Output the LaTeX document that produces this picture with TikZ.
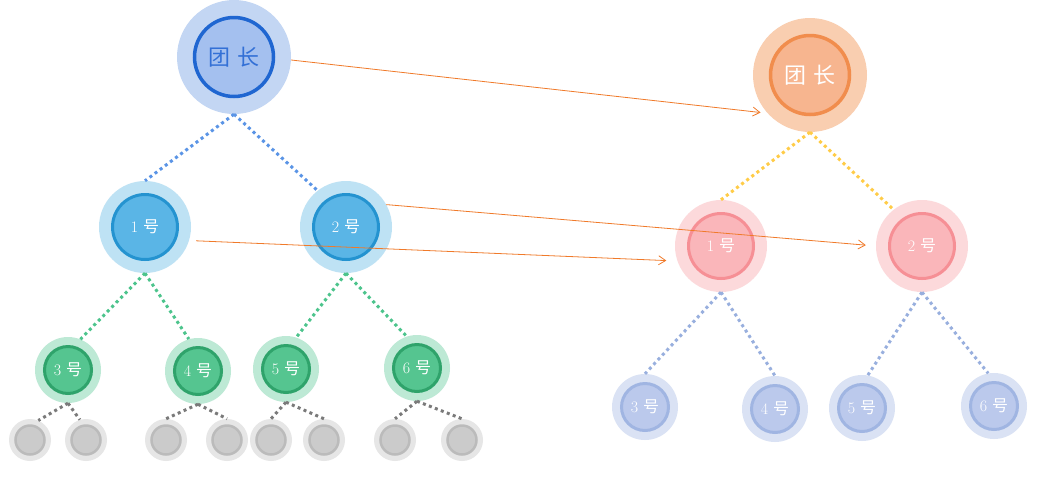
\documentclass[tikz,border=0pt]{standalone}
\usepackage{fontspec}
\newfontfamily\cjk{Noto Sans CJK SC}
\usetikzlibrary{arrows.meta}
\definecolor{bossBlueOut}{HTML}{C3D6F3}
\definecolor{bossBlueIn}{HTML}{A4C0EF}
\definecolor{bossBlueRing}{HTML}{1F66D1}
\definecolor{bossBlueText}{HTML}{3370D6}
\definecolor{skyOut}{HTML}{BEE2F4}
\definecolor{skyIn}{HTML}{5AB5E6}
\definecolor{skyRing}{HTML}{2493D0}
\definecolor{mintOut}{HTML}{BDE9D5}
\definecolor{mintIn}{HTML}{55C590}
\definecolor{mintRing}{HTML}{2FA36B}
\definecolor{greyOut}{HTML}{E6E6E6}
\definecolor{greyIn}{HTML}{CBCBCB}
\definecolor{greyRing}{HTML}{BBBBBB}
\definecolor{peachOut}{HTML}{F9CEB0}
\definecolor{peachIn}{HTML}{F7B58F}
\definecolor{peachRing}{HTML}{F18D4D}
\definecolor{roseOut}{HTML}{FCD9DB}
\definecolor{roseIn}{HTML}{FAB6BA}
\definecolor{roseRing}{HTML}{F68F95}
\definecolor{lilacOut}{HTML}{DAE2F4}
\definecolor{lilacIn}{HTML}{BBC9EC}
\definecolor{lilacRing}{HTML}{A0B5E2}
\definecolor{dotBlue}{HTML}{5A94E6}
\definecolor{dotMint}{HTML}{4CC48C}
\definecolor{dotGrey}{HTML}{7A7A7A}
\definecolor{dotGold}{HTML}{FFCC47}
\definecolor{dotLilac}{HTML}{98AFDE}
\definecolor{moveOrange}{HTML}{F07A2A}
\newcommand\hao[1]{#1\hspace{5pt}{\cjk 号}}

\begin{document}
\begin{tikzpicture}[x=1pt,y=-1pt,>={Straight Barb[length=7pt,width=9pt]}]
\path[fill=white] (0,0) rectangle (1047,480);
\tikzset{big/.style={circle,inner sep=0pt,minimum size=114pt},mid/.style={circle,inner sep=0pt,minimum size=92pt},small/.style={circle,inner sep=0pt,minimum size=66pt},tiny/.style={circle,inner sep=0pt,minimum size=42pt},
bigring/.style={circle,inner sep=0pt,minimum size=79pt,line width=3.5pt,font=\cjk\fontsize{22}{22}\selectfont},midring/.style={circle,inner sep=0pt,minimum size=65pt,line width=3pt,text=white,font=\fontsize{16}{16}\selectfont},smallring/.style={circle,inner sep=0pt,minimum size=47pt,line width=3pt,text=white,font=\fontsize{16}{16}\selectfont},tinyring/.style={circle,inner sep=0pt,minimum size=29pt,line width=2.5pt},
dots/.style={line width=3pt,dash pattern=on 3pt off 3.4pt},move/.style={draw=moveOrange,line width=0.8pt,->}}
% old team
\node[big,fill=bossBlueOut] (Lboss) at (234,54) {};
\node[bigring,fill=bossBlueIn,draw=bossBlueRing,text=bossBlueText] (Lboss-in) at (Lboss) {团\hspace{7pt}长};
\node[mid,fill=skyOut] (L1) at (145,224) {}; \node[midring,fill=skyIn,draw=skyRing] (L1-in) at (L1) {\hao{1}};
\node[mid,fill=skyOut] (L2) at (346,224) {}; \node[midring,fill=skyIn,draw=skyRing] (L2-in) at (L2) {\hao{2}};
\node[small,fill=mintOut] (L3) at (68,367) {}; \node[smallring,fill=mintIn,draw=mintRing] (L3-in) at (L3) {\hao{3}};
\node[small,fill=mintOut] (L4) at (198,368) {}; \node[smallring,fill=mintIn,draw=mintRing] (L4-in) at (L4) {\hao{4}};
\node[small,fill=mintOut] (L5) at (286,366) {}; \node[smallring,fill=mintIn,draw=mintRing] (L5-in) at (L5) {\hao{5}};
\node[small,fill=mintOut] (L6) at (417,365) {}; \node[smallring,fill=mintIn,draw=mintRing] (L6-in) at (L6) {\hao{6}};
\foreach \g/\x in {1/30,2/86,3/166,4/227,5/271,6/324,7/395,8/462}{
  \node[tiny,fill=greyOut] (g\g) at (\x,437) {};
  \node[tinyring,fill=greyIn,draw=greyRing] at (g\g) {};
}
\draw[dots,draw=dotBlue] (Lboss.south) -- (L1.north); \draw[dots,draw=dotBlue] (Lboss.south) -- (L2.128);
\draw[dots,draw=dotMint] (L1.south) -- (L3.68); \draw[dots,draw=dotMint] (L1.south) -- (L4.106);
\draw[dots,draw=dotMint] (L2.south) -- (L5.72); \draw[dots,draw=dotMint] (L2.south) -- (L6.108);
\draw[dots,draw=dotGrey] (L3.south) -- (g1.67); \draw[dots,draw=dotGrey] (L3.south) -- (g2.107);
\draw[dots,draw=dotGrey] (L4.south) -- (g3.north); \draw[dots,draw=dotGrey] (L4.south) -- (g4.north);
\draw[dots,draw=dotGrey] (L5.south) -- (g5.north); \draw[dots,draw=dotGrey] (L5.south) -- (g6.north);
\draw[dots,draw=dotGrey] (L6.south) -- (g7.north); \draw[dots,draw=dotGrey] (L6.south) -- (g8.north);
% new team
\node[big,fill=peachOut] (Rboss) at (810,72) {};
\node[bigring,fill=peachIn,draw=peachRing,text=white] (Rboss-in) at (Rboss) {团\hspace{7pt}长};
\node[mid,fill=roseOut] (R1) at (721,243) {}; \node[midring,fill=roseIn,draw=roseRing] (R1-in) at (R1) {\hao{1}};
\node[mid,fill=roseOut] (R2) at (922,243) {}; \node[midring,fill=roseIn,draw=roseRing] (R2-in) at (R2) {\hao{2}};
\node[small,fill=lilacOut] (R3) at (645,404) {}; \node[smallring,fill=lilacIn,draw=lilacRing] (R3-in) at (R3) {\hao{3}};
\node[small,fill=lilacOut] (R4) at (775,406) {}; \node[smallring,fill=lilacIn,draw=lilacRing] (R4-in) at (R4) {\hao{4}};
\node[small,fill=lilacOut] (R5) at (862,405) {}; \node[smallring,fill=lilacIn,draw=lilacRing] (R5-in) at (R5) {\hao{5}};
\node[small,fill=lilacOut] (R6) at (994,403) {}; \node[smallring,fill=lilacIn,draw=lilacRing] (R6-in) at (R6) {\hao{6}};
\draw[dots,draw=dotGold] (Rboss.south) -- (R1.north); \draw[dots,draw=dotGold] (Rboss.south) -- (R2.128);
\draw[dots,draw=dotLilac] (R1.south) -- (R3.north); \draw[dots,draw=dotLilac] (R1.south) -- (R4.north);
\draw[dots,draw=dotLilac] (R2.south) -- (R5.80); \draw[dots,draw=dotLilac] (R2.south) -- (R6.100);
% moves
\draw[move,shorten >=7pt] (Lboss.-3) -- (Rboss.222);
\draw[move,shorten >=10pt] (L2.29) -- (R2.180);
\draw[move,shorten <=7pt,shorten >=11pt] (L1.-17) -- (R1.199);
\end{tikzpicture}
\end{document}
